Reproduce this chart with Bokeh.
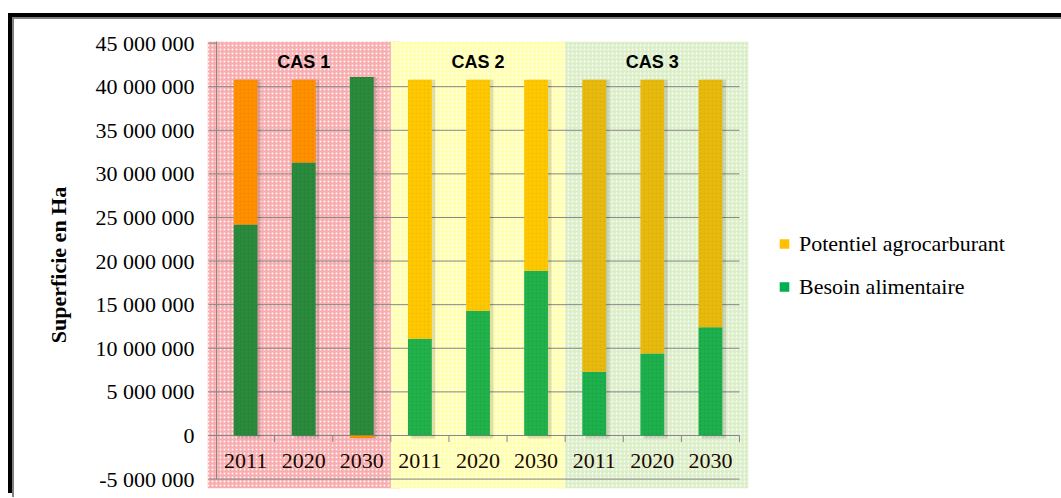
from bokeh.plotting import figure
from bokeh.models import (FactorRange, Range1d, FixedTicker, ColumnDataSource,
                          Legend, LegendItem)
from bokeh.core.properties import value
from bokeh.embed import file_html
from bokeh.resources import INLINE

# ---------------- data ----------------
cases = ["CAS 1", "CAS 2", "CAS 3"]
years = ["2011", "2020", "2030"]
besoin_alimentaire = [24.2e6, 31.3e6, 41.1e6,
                      11.1e6, 14.3e6, 18.9e6,
                      7.3e6, 9.4e6, 12.4e6]
potentiel_agrocarburant = [16.6e6, 9.5e6, -0.3e6,
                           29.7e6, 26.5e6, 21.9e6,
                           33.5e6, 31.4e6, 28.4e6]
y_ticks = [-5e6, 0, 5e6, 10e6, 15e6, 20e6, 25e6, 30e6, 35e6, 40e6, 45e6]

# ---------------- styles ----------------
green_by_case = {"CAS 1": "#2A8A3C", "CAS 2": "#22B24C", "CAS 3": "#1DB04D"}
yellow_by_case = {"CAS 1": "#FF9000", "CAS 2": "#FFC800", "CAS 3": "#E8BA0E"}
bg_by_case = {"CAS 1": "#F7AEB1", "CAS 2": "#FFFFB0", "CAS 3": "#DCEEC8"}
SERIF = value("Liberation Serif")

factors = [(c, y) for c in cases for y in years]
pot_bottom = [b if p >= 0 else 0 for b, p in zip(besoin_alimentaire, potentiel_agrocarburant)]
pot_top = [bt + p for bt, p in zip(pot_bottom, potentiel_agrocarburant)]
totals = [max(b, t) for b, t in zip(besoin_alimentaire, pot_top)]

src = ColumnDataSource(dict(
    x=factors,
    xs=[(c, y, 0.06) for c, y in factors],
    besoin=besoin_alimentaire,
    pb=pot_bottom, pt=pot_top, tot=totals,
    gcol=[green_by_case[c] for c, _ in factors],
    ycol=[yellow_by_case[c] for c, _ in factors],
))

Y0, Y1 = -6.08e6, 45.18e6
p = figure(frame_width=541, frame_height=447, output_backend="svg", toolbar_location=None,
           x_range=FactorRange(*factors, group_padding=0, factor_padding=0,
                               range_padding=0.155, range_padding_units="absolute"),
           y_range=Range1d(Y0, Y1),
           min_border_left=193, min_border_right=313, min_border_top=22,
           min_border_bottom=9)
p.outline_line_color = None
p.xgrid.visible = False
p.ygrid.visible = False
p.xaxis.visible = False
p.margin = (17, 0, 0, 12)
p.styles = {"border-top": "2px solid #808080", "border-left": "2px solid #808080",
            "box-shadow": "-4px -4px 0 0 #000000"}

# backgrounds per case
order = [cases[0], cases[2], cases[1]]
for c in order:
    w = 3.0 if c == cases[1] else 3.31
    p.vbar(x=[c], top=[Y1], bottom=[Y0], width=w,
           fill_color=bg_by_case[c], line_color=None,
           hatch_pattern="dot", hatch_color="white", hatch_scale=4,
           hatch_weight=1.5, hatch_alpha=0.9)

# grid lines + left ticks
grid_y = y_ticks[:-1]
p.segment(x0=[(cases[0], years[0], -0.64)] * len(grid_y),
          y0=grid_y,
          x1=[(cases[-1], years[-1], 0.5)] * len(grid_y),
          y1=grid_y, line_color="#868686", line_width=1)
p.segment(x0=[(cases[0], years[0], -0.64)], y0=[y_ticks[-1]],
          x1=[(cases[0], years[0], -0.5)], y1=[y_ticks[-1]],
          line_color="#868686", line_width=1)
# vertical axis line
p.segment(x0=[(cases[0], years[0], -0.5)], y0=[y_ticks[0]],
          x1=[(cases[0], years[0], -0.5)], y1=[y_ticks[-1] + 0.3e6],
          line_color="#868686", line_width=1)
# category tick marks
p.segment(x0=[(c, y, 0.5) for c, y in factors], y0=[0] * len(factors),
          x1=[(c, y, 0.5) for c, y in factors], y1=[-0.75e6] * len(factors),
          line_color="#868686", line_width=1)

# bar shadows
p.vbar(x="xs", bottom=-0.35e6, top="tot", width=0.41, source=src,
       fill_color="#000000", fill_alpha=0.13, line_color=None)

# bars
p.vbar(x="x", bottom=0, top="besoin", width=0.41, source=src,
       fill_color="gcol", line_color=None,
       hatch_pattern="dot", hatch_color="#000000", hatch_scale=4,
       hatch_weight=1, hatch_alpha=0.08)
p.vbar(x="x", bottom="pb", top="pt", width=0.41, source=src,
       fill_color="ycol", line_color=None,
       hatch_pattern="dot", hatch_color="#000000", hatch_scale=4,
       hatch_weight=1, hatch_alpha=0.06)

# year labels and case labels
p.text(x=factors, y=[-2.87e6] * len(factors), text=[y for _, y in factors],
       text_font=SERIF, text_font_size="22px", text_color="#1A0A00",
       text_align="center", text_baseline="middle")
p.text(x=cases, y=[42.8e6] * len(cases), text=cases,
       text_font=value("Liberation Sans"), text_font_style="bold",
       text_font_size="18px", text_color="#000000",
       text_align="center", text_baseline="middle")

# y axis
ax = p.yaxis[0]
ax.ticker = FixedTicker(ticks=y_ticks)
ax.major_label_overrides = {t: f"{int(t):,}".replace(",", " ") for t in y_ticks}
ax.axis_line_color = None
ax.major_tick_line_color = None
ax.minor_tick_line_color = None
ax.major_label_standoff = 7
ax.major_label_text_font = "Liberation Serif"
ax.major_label_text_font_size = "22px"
ax.major_label_text_color = "#000000"
ax.axis_label = "Superficie en Ha"
ax.axis_label_text_font = "Liberation Serif"
ax.axis_label_text_font_style = "bold"
ax.axis_label_text_font_size = "22px"
ax.axis_label_text_color = "#000000"
ax.axis_label_standoff = 22

# legend (zero-height proxy bars)
r_pot = p.vbar(x=[factors[0]], bottom=[0], top=[0], width=0.4,
               fill_color="#FFC000", line_color=None)
r_bes = p.vbar(x=[factors[0]], bottom=[0], top=[0], width=0.4,
               fill_color="#00B050", line_color=None)
legend = Legend(items=[LegendItem(label="Potentiel agrocarburant", renderers=[r_pot]),
                       LegendItem(label="Besoin alimentaire", renderers=[r_bes])],
                location="center_left", margin=24, padding=6,
                glyph_width=12, glyph_height=12, label_standoff=9,
                label_text_font="Liberation Serif", label_text_font_size="22px",
                label_text_color="#000000",
                label_height=24, spacing=17,
                border_line_alpha=0, background_fill_alpha=0)
p.add_layout(legend, "right")

open("out.html", "w").write(file_html(p, INLINE))
